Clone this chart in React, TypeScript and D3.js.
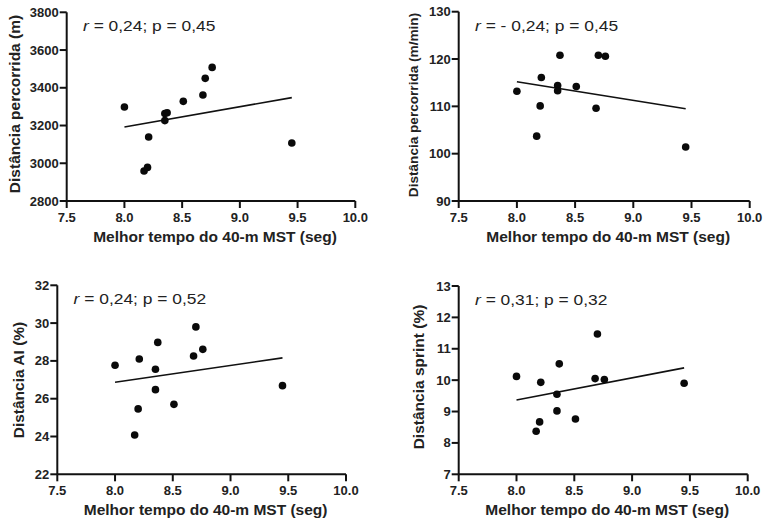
import React from "react";
import * as d3 from "d3";

// Shared x values: best 40-m MST time (s)
const mstTime = [8.0, 8.17, 8.2, 8.21, 8.35, 8.35, 8.37, 8.51, 8.68, 8.7, 8.76, 9.45];

// Series values
const distTotal = [3298, 2959, 2978, 3139, 3226, 3264, 3268, 3328, 3362, 3450, 3508, 3107];
const distPerMin = [113.2, 103.7, 110.1, 116.1, 114.4, 113.3, 120.8, 114.2, 109.6, 120.8, 120.6, 101.4];
const distAI = [27.77, 24.08, 25.46, 28.1, 26.48, 27.56, 28.98, 25.7, 28.26, 29.8, 28.61, 26.69];
const distSprint = [10.12, 8.37, 8.67, 9.93, 9.55, 9.02, 10.52, 8.76, 10.05, 11.47, 10.02, 9.9];

// Regression line endpoints (x and fitted y)
const fitX = [8.0, 9.45];
const fitTotal = [3192, 3348];
const fitPerMin = [115.2, 109.5];
const fitAI = [26.87, 28.16];
const fitSprint = [9.37, 10.39];

// Tick labels
const xTicks = [7.5, 8.0, 8.5, 9.0, 9.5, 10.0];
const yTicksTotal = [2800, 3000, 3200, 3400, 3600, 3800];
const yTicksPerMin = [90, 100, 110, 120, 130];
const yTicksAI = [22, 24, 26, 28, 30, 32];
const yTicksSprint = [7, 8, 9, 10, 11, 12, 13];

// Annotations and titles
const xTitle = "Melhor tempo do 40-m MST (seg)";
const yTitles = ["Distância percorrida (m)", "Distância percorrida (m/min)", "Distância AI (%)", "Distância sprint (%)"];
const stats = ["= 0,24; p = 0,45", "= - 0,24; p = 0,45", "= 0,24; p = 0,52", "= 0,31; p = 0,32"];

const FONT = "'Liberation Sans', Arial, Helvetica, sans-serif";

type PanelDef = {
  left: number;
  right: number;
  top: number;
  bottom: number;
  ys: number[];
  fit: number[];
  yTicks: number[];
  yTitle: string;
  yTitleSize: number;
  yTitleX: number;
  yTitleY: number;
  stat: string;
};

const panels: PanelDef[] = [
  { left: 66.7, right: 355.3, top: 12.3, bottom: 201, ys: distTotal, fit: fitTotal, yTicks: yTicksTotal, yTitle: yTitles[0], yTitleSize: 15.5, yTitleX: 20, yTitleY: 104, stat: stats[0] },
  { left: 458.7, right: 749.7, top: 11.7, bottom: 201, ys: distPerMin, fit: fitPerMin, yTicks: yTicksPerMin, yTitle: yTitles[1], yTitleSize: 13.6, yTitleX: 418, yTitleY: 105, stat: stats[1] },
  { left: 57.3, right: 346, top: 285.3, bottom: 474.3, ys: distAI, fit: fitAI, yTicks: yTicksAI, yTitle: yTitles[2], yTitleSize: 15.5, yTitleX: 24, yTitleY: 380, stat: stats[2] },
  { left: 458.7, right: 747.7, top: 286, bottom: 474.3, ys: distSprint, fit: fitSprint, yTicks: yTicksSprint, yTitle: yTitles[3], yTitleSize: 15.5, yTitleX: 424, yTitleY: 377, stat: stats[3] },
];

function Panel({ p }: { p: PanelDef }) {
  const x = d3.scaleLinear().domain([xTicks[0], xTicks[xTicks.length - 1]]).range([p.left, p.right]);
  const y = d3.scaleLinear().domain([p.yTicks[0], p.yTicks[p.yTicks.length - 1]]).range([p.bottom, p.top]);
  const line = d3
    .line<number>()
    .x((_, i) => x(fitX[i]))
    .y((v) => y(v));
  const fmtX = d3.format(".1f");
  const tickLen = 7;
  return (
    <g>
      {/* fit line */}
      <path d={line(p.fit) || ""} stroke="#111" strokeWidth={1.6} fill="none" />
      {/* points */}
      {mstTime.map((xv, i) => (
        <circle key={i} cx={x(xv)} cy={y(p.ys[i])} r={3.8} fill="#0a0a0a" />
      ))}
      {/* axes */}
      <line x1={p.left} x2={p.left} y1={p.top} y2={p.bottom} stroke="#111" strokeWidth={2} />
      <line x1={p.left} x2={p.right} y1={p.bottom} y2={p.bottom} stroke="#111" strokeWidth={2} />
      {p.yTicks.map((t) => (
        <g key={"y" + t}>
          <line x1={p.left - tickLen} x2={p.left} y1={y(t)} y2={y(t)} stroke="#111" strokeWidth={2} />
          <text x={p.left - tickLen - 1} y={y(t)} dy="0.35em" textAnchor="end" fontSize={13} fontWeight="bold" fontFamily={FONT} fill="#222">
            {t}
          </text>
        </g>
      ))}
      {xTicks.map((t) => (
        <g key={"x" + t}>
          <line x1={x(t)} x2={x(t)} y1={p.bottom} y2={p.bottom + tickLen} stroke="#111" strokeWidth={2} />
          <text x={x(t)} y={p.bottom + 20.5} textAnchor="middle" fontSize={13} fontWeight="bold" fontFamily={FONT} fill="#222">
            {fmtX(t)}
          </text>
        </g>
      ))}
      <text x={(p.left + p.right) / 2 + 4} y={p.bottom + 41} textAnchor="middle" fontSize={15.5} fontWeight="bold" fontFamily={FONT} fill="#222">
        {xTitle}
      </text>
      <text
        transform={`translate(${p.yTitleX},${p.yTitleY}) rotate(-90)`}
        textAnchor="middle"
        fontSize={p.yTitleSize}
        fontWeight="bold"
        fontFamily={FONT}
        fill="#222"
      >
        {p.yTitle}
      </text>
      <text transform={`translate(${p.left + 16.3},${p.top + 19}) scale(1.16,1)`} fontSize={15} fontFamily={FONT} fill="#222">
        <tspan fontStyle="italic">r</tspan> {p.stat}
      </text>
    </g>
  );
}

export default function App() {
  return (
    <svg width={764} height={524} style={{ display: "block", position: "absolute", left: 0, top: 0, background: "#fff" }}>
      <rect width={764} height={524} fill="#fff" />
      {panels.map((p, i) => (
        <Panel key={i} p={p} />
      ))}
    </svg>
  );
}
